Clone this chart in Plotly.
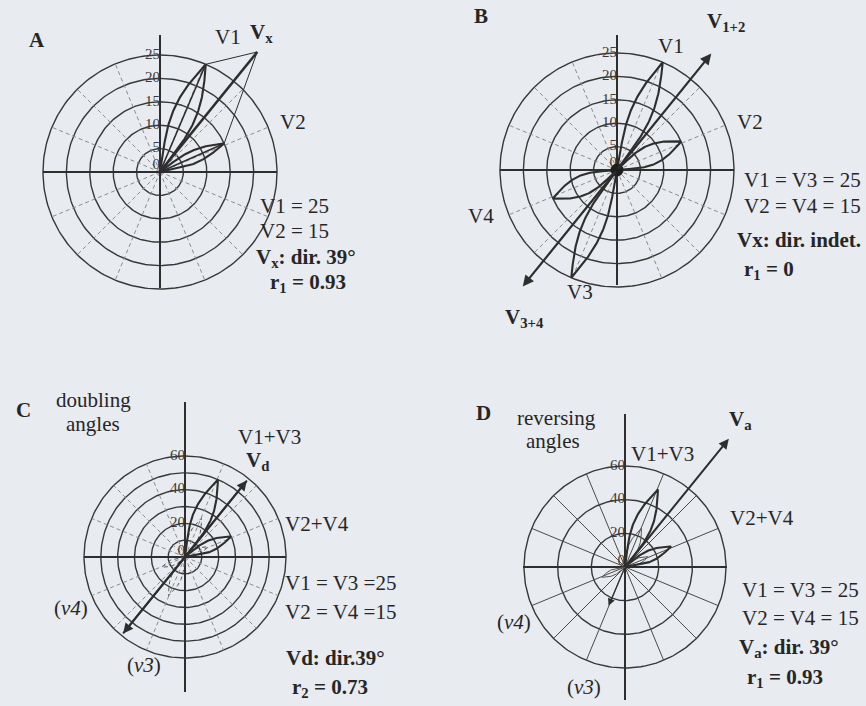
import numpy as np
import plotly.graph_objects as go

W, H = 866, 706
BG = "#e8ebef"
INK = "#2e2e2e"
SERIF = "Liberation Serif, Times New Roman, serif"

# ---- Panel A: two vectors and their resultant ----
A_names = ["V1", "V2"]
A_mag = [25, 15]
A_dir = [23, 66]
A_width = [0.10, 0.09]
A_rings = [5, 10, 15, 20, 25]
A_ticks = [0, 5, 10, 15, 20, 25]
A_res_dir = 39
A_res_len = 33
A_r1 = 0.93

# ---- Panel B: four vectors cancelling in pairs ----
B_names = ["V1", "V2", "V3", "V4"]
B_mag = [25, 15, 25, 15]
B_dir = [23, 66, 203, 246]
B_width = [0.09, 0.14, 0.09, 0.14]
B_sum_dir = [39, 219]
B_sum_len = [32, 32]
B_rings = [5, 10, 15, 20, 25]
B_ticks = [0, 5, 10, 15, 20, 25]

# ---- Panel C: doubling angles ----
C_names = ["V1+V3", "V2+V4"]
C_mag = [50, 30]
C_dir = [23, 66]
C_single_mag = [25, 15, 25, 15]
C_single_dir = [23, 66, 203, 246]
C_rings = [10, 20, 30, 40, 50, 60]
C_ticks = [0, 20, 40, 60]
C_axis_dir = 39
C_r2 = 0.73

# ---- Panel D: reversing angles ----
D_names = ["V1+V3", "V2+V4"]
D_mag = [50, 30]
D_dir = [23, 66]
D_single_mag = [25, 15, 15]
D_single_dir = [23, 66, 246]
D_v3_mag = 25
D_v3_dir = 203
D_rings = [20, 40, 60]
D_ticks = [0, 20, 40, 60]
D_res_dir = 39
D_res_len = 98

SPOKES = [a for a in np.arange(0, 360, 22.5) if a % 90 != 0]

# panel layout: centre (px), px per unit, page rectangle
PANELS = {
    "A": dict(c=(160, 172), s=117 / 25, rect=(0, 0, 433, 353)),
    "B": dict(c=(617, 170), s=117 / 25, rect=(433, 0, 866, 353)),
    "C": dict(c=(185, 557), s=101 / 60, rect=(0, 353, 433, 706)),
    "D": dict(c=(625, 567), s=101 / 60, rect=(433, 353, 866, 706)),
}

fig = go.Figure()
annotations = []


def xy(m, az):
    a = np.radians(az)
    return m * np.sin(a), m * np.cos(a)


def petal(m, az, w=0.1, n=80):
    """Closed lens from the origin to the tip of a vector."""
    t = np.linspace(0, 1, n)
    prof = w * m * np.sin(np.pi * t ** 1.1)
    along = t * m
    a = np.radians(az)
    u = np.array([np.sin(a), np.cos(a)])
    nv = np.array([np.cos(a), -np.sin(a)])
    left = along[:, None] * u + prof[:, None] * nv
    right = along[::-1, None] * u - prof[::-1, None] * nv
    pts = np.vstack([left, right])
    return pts[:, 0], pts[:, 1]


def axes_of(key):
    i = "ABCD".index(key) + 1
    return ("x" if i == 1 else f"x{i}"), ("y" if i == 1 else f"y{i}")


def line(key, xs, ys, width=1.6, color=INK, dash="solid"):
    xa, ya = axes_of(key)
    fig.add_trace(go.Scatter(x=xs, y=ys, mode="lines", xaxis=xa, yaxis=ya,
                             line=dict(color=color, width=width, dash=dash),
                             hoverinfo="skip", showlegend=False))


def grid(key, rings, ticks, up, down, half, spoke_dash):
    rmax = rings[-1]
    th = np.linspace(0, 360, 241)
    for r in rings:
        x, y = xy(r, th)
        line(key, x, y, width=1.4, color="#383838")
    for a in SPOKES:
        x, y = xy(np.array([0, rmax]), a)
        if spoke_dash == "solid":
            line(key, x, y, width=1.0, color="#4a4a4a")
        else:
            line(key, x, y, width=1.0, color="#8c8c8c", dash="4px,3px")
    line(key, [0, 0], [-down, up], width=2.0)
    line(key, [-half, half], [0, 0], width=2.0)
    xa, ya = axes_of(key)
    fig.add_trace(go.Scatter(
        x=[0] * len(ticks), y=[t if t else rmax * 0.06 for t in ticks],
        mode="text", text=[str(t) for t in ticks], textposition="middle left",
        textfont=dict(family=SERIF, size=15, color="#3a3a3a"),
        xaxis=xa, yaxis=ya, hoverinfo="skip", showlegend=False))


def arrow(key, x0, y0, x1, y1, width=2.0, size=1.0):
    xa, ya = axes_of(key)
    annotations.append(dict(x=x1, y=y1, ax=x0, ay=y0, xref=xa, yref=ya,
                            axref=xa, ayref=ya, showarrow=True, arrowhead=2,
                            arrowsize=size, arrowwidth=width, arrowcolor=INK,
                            text=""))


def text(px, py, s, size=21, anchor="left", bold=False):
    if bold:
        s = f"<b>{s}</b>"
    annotations.append(dict(x=px / W, y=1 - py / H, xref="paper", yref="paper",
                            text=s, showarrow=False, xanchor=anchor,
                            yanchor="middle",
                            font=dict(family=SERIF, size=size, color="#262626")))


# ---------------- A ----------------
sA = PANELS["A"]["s"]
grid("A", A_rings, A_ticks, 137 / sA, 116 / sA, 117 / sA, "dash")
tips = []
for m, d, w in zip(A_mag, A_dir, A_width):
    px, py = petal(m, d, w)
    line("A", px, py, width=2.1)
    tx, ty = xy(m, d)
    tips.append((tx, ty))
    line("A", [0, tx], [0, ty], width=1.6)
rx, ry = xy(A_res_len, A_res_dir)
line("A", [0, rx], [0, ry], width=2.6)
line("A", [tips[0][0], rx, tips[1][0]], [tips[0][1], ry, tips[1][1]], width=1.0)

# ---------------- B ----------------
sB = PANELS["B"]["s"]
grid("B", B_rings, B_ticks, 135 / sB, 115 / sB, 117 / sB, "dash")
for m, d, w in zip(B_mag, B_dir, B_width):
    px, py = petal(m, d, w)
    line("B", px, py, width=2.1)
for m, d in zip(B_sum_len, B_sum_dir):
    tx, ty = xy(m, d)
    arrow("B", 0, 0, tx, ty, width=2.2, size=1.0)
xa, ya = axes_of("B")
fig.add_trace(go.Scatter(x=[0], y=[0], mode="markers", xaxis=xa, yaxis=ya,
                         marker=dict(size=13, color="#1e1e1e"),
                         hoverinfo="skip", showlegend=False))

# ---------------- C ----------------
sC = PANELS["C"]["s"]
grid("C", C_rings, C_ticks, 155 / sC, 135 / sC, 101 / sC, "dash")
for m, d in zip(C_single_mag, C_single_dir):
    px, py = petal(m, d, 0.12)
    line("C", px, py, width=1.0, dash="4px,3px", color="#555")
for m, d in zip(C_mag, C_dir):
    px, py = petal(m, d, 0.11)
    line("C", px, py, width=2.1)
half = C_r2 * sum(C_mag)
tx, ty = xy(half, C_axis_dir)
line("C", [-tx, tx], [-ty, ty], width=2.0)
arrow("C", 0, 0, tx, ty, width=2.0, size=1.0)
arrow("C", 0, 0, -tx, -ty, width=2.0, size=1.0)

# ---------------- D ----------------
sD = PANELS["D"]["s"]
grid("D", D_rings, D_ticks, 153 / sD, 133 / sD, 102 / sD, "solid")
for m, d in zip(D_single_mag, D_single_dir):
    px, py = petal(m, d, 0.12)
    line("D", px, py, width=1.0, color="#555")
vx, vy = xy(D_v3_mag, D_v3_dir)
arrow("D", 0, 0, vx, vy, width=1.2, size=1.2)
for m, d in zip(D_mag, D_dir):
    px, py = petal(m, d, 0.11)
    line("D", px, py, width=2.1)
tx, ty = xy(D_res_len, D_res_dir)
arrow("D", 0, 0, tx, ty, width=2.0, size=1.0)

# ---------------- labels ----------------
text(27, 40, "A", bold=True)
text(213, 37, "V1")
text(248, 33, "V<sub>x</sub>", bold=True)
text(278, 122, "V2")
text(258, 206, "V1 = 25")
text(258, 231, "V2 = 15")
text(254, 258, "V<sub>x</sub>: dir. 39°", bold=True)
text(268, 283, "r<sub>1</sub> = 0.93", bold=True)

text(472, 16, "B", bold=True)
text(705, 22, "V<sub>1+2</sub>", bold=True)
text(656, 46, "V1")
text(735, 122, "V2")
text(742, 180, "V1 = V3 = 25")
text(742, 206, "V2 = V4 = 15")
text(735, 240, "Vx: dir. indet.", bold=True)
text(742, 270, "r<sub>1</sub> = 0", bold=True)
text(466, 216, "V4")
text(565, 292, "V3")
text(503, 318, "V<sub>3+4</sub>", bold=True)

text(14, 410, "C", bold=True)
text(93, 400, "doubling", anchor="center")
text(93, 424, "angles", anchor="center")
text(236, 437, "V1+V3")
text(244, 461, "V<sub>d</sub>", bold=True)
text(283, 524, "V2+V4")
text(283, 583, "V1 = V3 =25")
text(283, 612, "V2 = V4 =15")
text(284, 658, "Vd: dir.39°", bold=True)
text(290, 688, "r<sub>2</sub> = 0.73", bold=True)
text(52, 608, "(<i>v4</i>)")
text(125, 665, "(<i>v3</i>)")

text(474, 413, "D", bold=True)
text(556, 418, "reversing", anchor="center")
text(553, 441, "angles", anchor="center")
text(629, 454, "V1+V3")
text(727, 420, "V<sub>a</sub>", bold=True)
text(728, 518, "V2+V4")
text(740, 590, "V1 = V3 = 25")
text(740, 618, "V2 = V4 = 15")
text(737, 648, "V<sub>a</sub>: dir. 39°", bold=True)
text(745, 678, "r<sub>1</sub> = 0.93", bold=True)
text(495, 622, "(<i>v4</i>)")
text(565, 687, "(<i>v3</i>)")

# ---------------- axes ----------------
layout_axes = {}
for key, p in PANELS.items():
    cx, cy = p["c"]
    s = p["s"]
    x0, y0, x1, y1 = p["rect"]
    xa, ya = axes_of(key)
    xname = "xaxis" if xa == "x" else "xaxis" + xa[1:]
    yname = "yaxis" if ya == "y" else "yaxis" + ya[1:]
    layout_axes[xname] = dict(domain=[x0 / W, x1 / W],
                              range=[(x0 - cx) / s, (x1 - cx) / s],
                              visible=False, anchor=ya)
    layout_axes[yname] = dict(domain=[1 - y1 / H, 1 - y0 / H],
                              range=[(cy - y1) / s, (cy - y0) / s],
                              visible=False, anchor=xa)

fig.update_layout(width=W, height=H, margin=dict(l=0, r=0, t=0, b=0),
                  paper_bgcolor=BG, plot_bgcolor=BG, showlegend=False,
                  annotations=annotations, **layout_axes)
fig.write_html("out.html")
